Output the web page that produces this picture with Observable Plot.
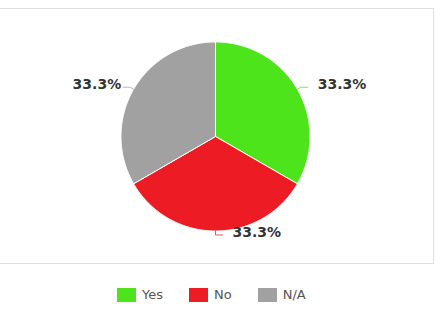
<!DOCTYPE html>
<html>
<head>
<meta charset="utf-8">
<script src="https://cdn.jsdelivr.net/npm/d3@7"></script>
<script src="https://cdn.jsdelivr.net/npm/@observablehq/plot@0.6"></script>
<style>
  html, body { margin: 0; padding: 0; background: #fff; }
  body { width: 436px; height: 310px; position: relative; overflow: hidden; font-family: "DejaVu Sans", Verdana, sans-serif; }
  #box { position: absolute; left: -1px; top: 8px; width: 433px; height: 254px; border: 1px solid #dedede; }
  #box svg { display: block; }
  #legend { position: absolute; left: 117px; top: 287px; display: flex; align-items: center; font-size: 13px; color: #555; }
  #legend .item { display: flex; align-items: center; margin-right: 26px; }
  #legend .item:last-child { margin-right: 0; }
  #legend .sw { width: 19px; height: 14px; margin-right: 6px; }
</style>
</head>
<body>
<div id="box"></div>
<div id="legend"></div>
<script>
const categories = ["Yes", "No", "N/A"];
const values = [1, 1, 1];
const colors = ["#4ee41c", "#ed1c24", "#a1a1a1"];

const R = 94.5, CX = 215, CY = 127;
const total = d3.sum(values);
const arcs = d3.pie().sort(null).value(d => d)(values);

// slice outlines (unit circle coordinates, angle clockwise from 12 o'clock)
const slicePts = [];
arcs.forEach((a, i) => {
  const cat = categories[i];
  slicePts.push({cat, x: 0, y: 0});
  const n = Math.ceil((a.endAngle - a.startAngle) / (Math.PI / 360));
  for (let j = 0; j <= n; j++) {
    const t = a.startAngle + (a.endAngle - a.startAngle) * j / n;
    slicePts.push({cat, x: Math.sin(t), y: Math.cos(t)});
  }
  slicePts.push({cat, x: 0, y: 0});
});

// connectors and labels
const connPts = [];
const labelRows = [];
arcs.forEach((a, i) => {
  const cat = categories[i];
  const m = (a.startAngle + a.endAngle) / 2;
  const ux = Math.sin(m), uy = Math.cos(m);
  const side = ux < -1e-6 ? -1 : 1;
  const p1x = ux + ux * 4 / R, p1y = uy + uy * 4 / R;
  const p2x = p1x + side * 7 / R, p2y = p1y;
  connPts.push({cat, x: ux, y: uy}, {cat, x: p1x, y: p1y}, {cat, x: p2x, y: p2y});
  labelRows.push({
    cat, side,
    x: p2x + side * (side > 0 ? 10 : 2) / R,
    y: p2y + 2.5 / R,
    label: (values[i] / total * 100).toFixed(1) + "%"
  });
});

const textOpts = {x: "x", y: "y", text: "label", fontSize: 14, fontWeight: "bold", fill: "#333", lineAnchor: "middle"};

const chart = Plot.plot({
  width: 433,
  height: 254,
  margin: 0,
  x: {domain: [-1, 1], range: [CX - R, CX + R], axis: null},
  y: {domain: [-1, 1], range: [CY + R, CY - R], axis: null},
  color: {domain: categories, range: colors},
  style: {background: "transparent", fontFamily: "DejaVu Sans, Verdana, sans-serif", overflow: "visible"},
  marks: [
    Plot.line(slicePts, {x: "x", y: "y", z: "cat", fill: "cat", stroke: "#ffffff", strokeWidth: 1, strokeLinejoin: "round"}),
    Plot.line(connPts, {x: "x", y: "y", z: "cat", stroke: "cat", strokeWidth: 1, strokeOpacity: 0.75}),
    Plot.text(labelRows.filter(d => d.side > 0), {...textOpts, textAnchor: "start"}),
    Plot.text(labelRows.filter(d => d.side < 0), {...textOpts, textAnchor: "end"})
  ]
});
document.getElementById("box").appendChild(chart);

const legend = document.getElementById("legend");
categories.forEach((c, i) => {
  const item = document.createElement("div");
  item.className = "item";
  const sw = document.createElement("span");
  sw.className = "sw";
  sw.style.background = colors[i];
  const tx = document.createElement("span");
  tx.textContent = c;
  item.appendChild(sw);
  item.appendChild(tx);
  legend.appendChild(item);
});
</script>
</body>
</html>
